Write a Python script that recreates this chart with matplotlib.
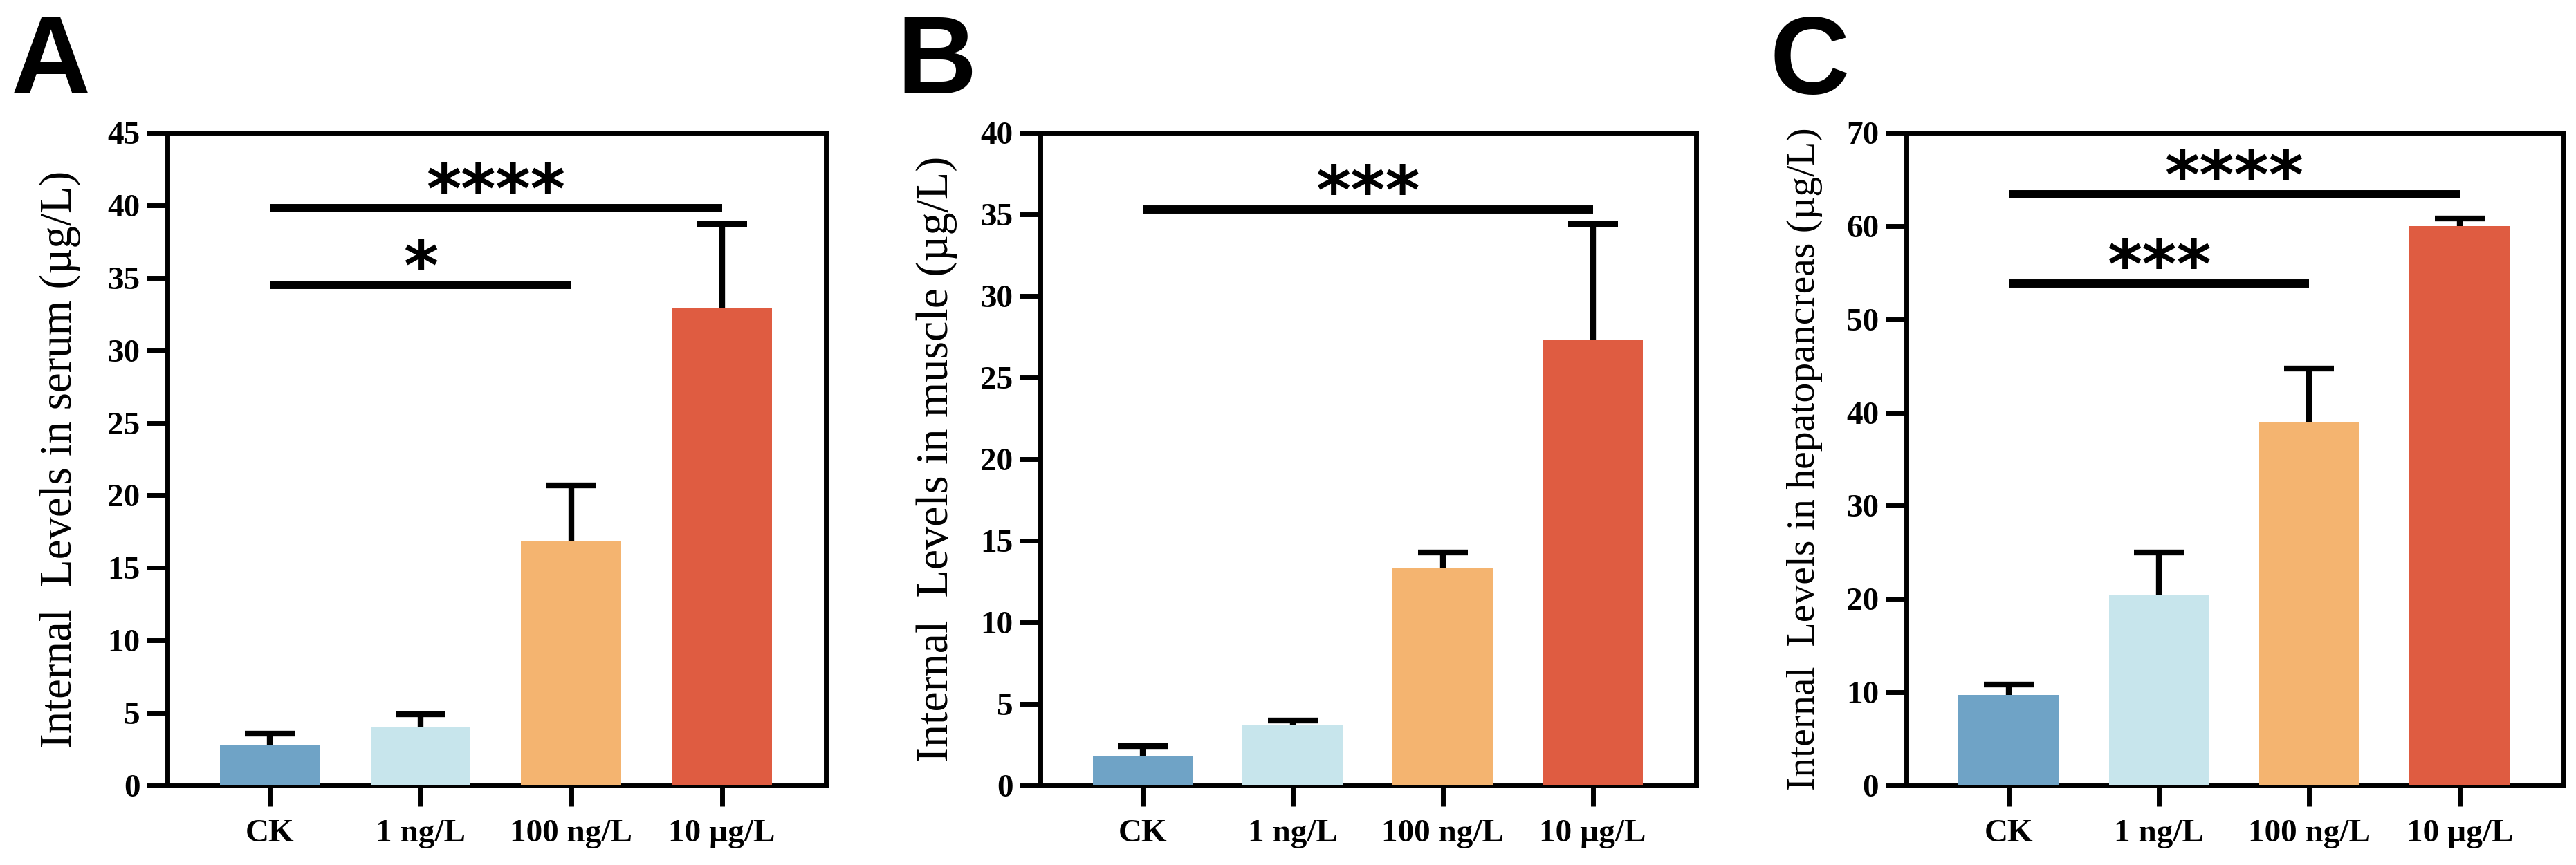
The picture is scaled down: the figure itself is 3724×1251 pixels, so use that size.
import matplotlib
matplotlib.use('Agg')
import matplotlib.pyplot as plt

# ---- data ----
groups = ['CK', '1 ng/L', '100 ng/L', '10 \u00b5g/L']
bar_colors = ['#6FA3C6', '#C7E5EC', '#F4B470', '#DF5C41']

serum_mean = [2.8, 4.0, 16.9, 32.9]
serum_sd = [0.8, 0.9, 3.8, 5.8]
muscle_mean = [1.8, 3.7, 13.3, 27.3]
muscle_sd = [0.6, 0.3, 1.0, 7.1]
hepato_mean = [9.7, 20.4, 38.9, 60.0]
hepato_sd = [1.1, 4.6, 5.8, 0.8]

# significance brackets: (start group, end group, y, label)
serum_sig = [(0, 2, 34.5, '*'), (0, 3, 39.8, '****')]
muscle_sig = [(0, 3, 35.3, '***')]
hepato_sig = [(0, 2, 53.8, '***'), (0, 3, 63.4, '****')]

# letter, means, sds, sigs, ymax, step, ylabel, axes rect, label x, label size
panels = [
    ('A', serum_mean, serum_sd, serum_sig, 45, 5,
     'Internal  Levels in serum (\u00b5g/L)', [0.065, 0.0919, 0.2556, 0.7546], -0.131, 46.7),
    ('B', muscle_mean, muscle_sd, muscle_sig, 40, 5,
     'Internal  Levels in muscle (\u00b5g/L)', [0.4039, 0.0919, 0.2546, 0.7546], -0.127, 47.5),
    ('C', hepato_mean, hepato_sd, hepato_sig, 70, 10,
     'Internal  Levels in hepatopancreas (\u00b5g/L)', [0.740, 0.0919, 0.2551, 0.7546], -0.127, 41.6),
]
letter_x = [0.004, 0.348, 0.687]

fig = plt.figure(figsize=(37.24, 12.51), dpi=100)

for i, (letter, means, sds, sigs, ymax, step, ylabel, rect, lab_x, lab_fs) in enumerate(panels):
    ax = fig.add_axes(rect)
    x = list(range(len(groups)))
    # symmetric error bars drawn under the bars so only the upper half shows
    ax.errorbar(x, means, yerr=sds, fmt='none', ecolor='black',
                elinewidth=6, capsize=26, capthick=6, zorder=2)
    ax.bar(x, means, width=0.665, color=bar_colors, zorder=3)

    for a, b, y, lab in sigs:
        ax.plot([a, b], [y, y], color='black', lw=8.6, solid_capstyle='butt', zorder=4)
        ax.annotate(lab, xy=((a + b) / 2, y), xytext=(0, -4), textcoords='offset points',
                    ha='center', va='baseline', fontsize=69, fontweight='bold',
                    family='DejaVu Sans', zorder=5)

    ax.set_xlim(-0.68, 3.69)
    ax.set_ylim(0, ymax)
    ax.set_yticks(range(0, ymax + 1, step))
    ax.set_xticks(x)
    ax.set_xticklabels(groups)
    for sp in ax.spines.values():
        sp.set_linewidth(5)
    ax.tick_params(axis='both', direction='out', length=21.6, width=5)
    ax.tick_params(axis='x', pad=14)
    ax.tick_params(axis='y', pad=7)
    for t in ax.get_xticklabels() + ax.get_yticklabels():
        t.set_fontfamily('Liberation Serif')
        t.set_fontweight('bold')
        t.set_fontsize(34)
    ax.set_ylabel(ylabel, family='Liberation Serif', fontsize=lab_fs)
    ax.yaxis.set_label_coords(lab_x, 0.5)

    fig.text(letter_x[i], 0.985, letter, ha='left', va='top', fontsize=115,
             fontweight='bold', family='Liberation Sans')

fig.savefig('out.png', dpi=100)
